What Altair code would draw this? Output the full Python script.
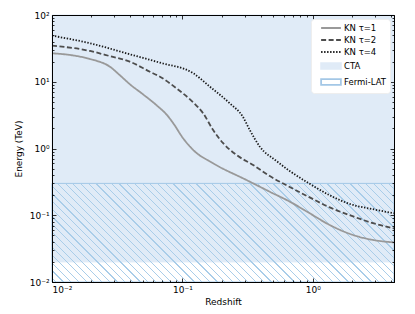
import math
import altair as alt
import pandas as pd

# ---------------- data ----------------
Z_TAU1 = [0.0100, 0.0137, 0.0196, 0.0278, 0.0332, 0.0395, 0.0498, 0.0638, 0.0761, 0.0851,
          0.1014, 0.1211, 0.1722, 0.3105, 0.468, 0.666, 0.948, 1.35, 2.04, 2.90, 4.2]
E_TAU1 = [26.7, 25.2, 21.9, 16.8, 12.5, 9.2, 6.5, 4.4, 3.18, 2.39,
          1.42, 0.95, 0.60, 0.337, 0.225, 0.160, 0.107, 0.0714, 0.0506, 0.0426, 0.0392]

Z_TAU2 = [0.0100, 0.0196, 0.0278, 0.0395, 0.0564, 0.0673, 0.0903, 0.1211, 0.1443, 0.1722,
          0.2055, 0.260, 0.349, 0.468, 0.666, 0.948, 1.35, 2.04, 2.90, 4.2]
E_TAU2 = [34.7, 28.9, 24.2, 20.0, 14.1, 11.9, 7.95, 4.9, 3.37, 1.89,
          1.20, 0.80, 0.566, 0.386, 0.265, 0.185, 0.131, 0.096, 0.076, 0.0635]

Z_TAU4 = [0.0100, 0.0196, 0.0395, 0.0673, 0.1211, 0.1626, 0.231, 0.291, 0.329, 0.393,
          0.527, 0.666, 0.948, 1.35, 2.04, 2.73, 4.2]
E_TAU4 = [49.0, 37.7, 25.8, 19.3, 13.4, 8.43, 4.75, 2.99, 1.89, 1.064,
          0.65, 0.46, 0.296, 0.199, 0.1425, 0.126, 0.107]

SERIES = ["KN τ=1", "KN τ=2", "KN τ=4"]
REGIONS = ["CTA", "Fermi-LAT"]
REGION_LO = [0.02, 0.01]
REGION_HI = [100.0, 0.3]
KEYS = SERIES + REGIONS

X_DOMAIN = [0.01, 4.2]
Y_DOMAIN = [0.01, 100.0]
X_MAJOR = [0.01, 0.1, 1.0]
Y_MAJOR = [0.01, 0.1, 1.0, 10.0, 100.0]
MAJOR_LABELS = ["10⁻²", "10⁻¹", "10⁰", "10¹", "10²"]
X_MINOR = [m * 10.0 ** k for k in (-2, -1, 0) for m in range(2, 10) if m * 10.0 ** k <= 4.2]
Y_MINOR = [m * 10.0 ** k for k in (-2, -1, 0, 1) for m in range(2, 10)]

# ---------------- styles ----------------
W, H = 342, 267
FONT = "DejaVu Sans"
CTA_COLOR = "#e0ebf7"
HATCH_COLOR = "#a9cde9"
EDGE_COLOR = "#a3c7e6"
CLEAR = "rgba(255,255,255,0)"
LINE_COLORS = ["#999999", "#4d4d4d", "#1a1a1a"]
LINE_PATH = "M-2.55,0L2.55,0"
RECT_PATH = "M-2.55,-0.75L2.55,-0.75L2.55,0.75L-2.55,0.75Z"

lines_df = pd.DataFrame({
    "z": Z_TAU1 + Z_TAU2 + Z_TAU4,
    "E": E_TAU1 + E_TAU2 + E_TAU4,
    "series": [SERIES[0]] * len(Z_TAU1) + [SERIES[1]] * len(Z_TAU2) + [SERIES[2]] * len(Z_TAU4),
})
regions_df = pd.DataFrame({"region": REGIONS, "lo": REGION_LO, "hi": REGION_HI})

# hatch pattern for Fermi-LAT as a striped linear gradient
hf = H * (math.log10(REGION_HI[1]) - math.log10(REGION_LO[1])) / (
    math.log10(Y_DOMAIN[1]) - math.log10(Y_DOMAIN[0]))
span = W + hf
a = span / (W * W + hf * hf)
spacing, lw = 7.7, 1.2
stops = [alt.GradientStop(offset=0, color=CLEAR)]
c = spacing / 2
while c < span - 1:
    t0, t1 = (c - lw / 2) / span, (c + lw / 2) / span
    stops += [alt.GradientStop(offset=t0, color=CLEAR),
              alt.GradientStop(offset=t0, color=HATCH_COLOR),
              alt.GradientStop(offset=t1, color=HATCH_COLOR),
              alt.GradientStop(offset=t1, color=CLEAR)]
    c += spacing
stops.append(alt.GradientStop(offset=1, color=CLEAR))
hatch = alt.LinearGradient(gradient="linear", stops=stops, x1=0, y1=1, x2=a * W, y2=1 - a * hf)


def label_expr(vals, labs):
    expr = "''"
    for v, l in reversed(list(zip(vals, labs))):
        expr = f"datum.value <= {v * 1.5} ? '{l}' : ({expr})"
    return expr


def axis(orient, values, size, labels=False, title=None, domain=False, **kw):
    return alt.Axis(orient=orient, values=values, tickSize=alt.ExprRef(expr=str(-size)),
                    labels=labels, title=title, domain=domain, grid=False, zindex=1, **kw)


xs = alt.Scale(type="log", domain=X_DOMAIN, nice=False)
ys = alt.Scale(type="log", domain=Y_DOMAIN, nice=False)

stroke_scale = alt.Scale(domain=KEYS, range=LINE_COLORS + [CTA_COLOR, EDGE_COLOR])
fill_scale = alt.Scale(domain=KEYS, range=[CLEAR, CLEAR, CLEAR, CTA_COLOR, CLEAR])
dash_scale = alt.Scale(domain=KEYS, range=[[1, 0], [5, 2.5], [1.4, 1.6], [1, 0], [1, 0]])
shape_scale = alt.Scale(domain=KEYS, range=[LINE_PATH, LINE_PATH, LINE_PATH, RECT_PATH, RECT_PATH])
width_scale = alt.Scale(domain=KEYS, range=[1.8, 1.8, 1.5, 0.8, 0.8])

legend = alt.Legend(orient="top-right", offset=4, title=None, padding=4, fillColor="white",
                    strokeColor="#eeeeee", cornerRadius=3, symbolSize=60, symbolOffset=11,
                    labelOffset=8, rowPadding=2, labelFont=FONT, labelFontSize=8.5,
                    labelColor="black", symbolFillColor="transparent", zindex=2)

base_regions = alt.Chart(regions_df)

regions = base_regions.mark_rect(strokeWidth=1).encode(
    x=alt.datum(X_DOMAIN[0], scale=xs,
                axis=axis("bottom", X_MAJOR, 4, labels=True, title="Redshift", domain=True,
                          labelExpr=label_expr(X_MAJOR, MAJOR_LABELS), labelPadding=7,
                          titlePadding=3)),
    x2=alt.datum(X_DOMAIN[1]),
    y=alt.Y("lo:Q", scale=ys,
            axis=axis("left", Y_MAJOR, 4, labels=True, title="Energy (TeV)", domain=True,
                      labelExpr=label_expr(Y_MAJOR, MAJOR_LABELS), labelPadding=7,
                      titlePadding=6)),
    y2="hi:Q",
    fill=alt.Fill("region:N", scale=fill_scale, legend=legend),
    stroke=alt.Stroke("region:N", scale=stroke_scale, legend=legend),
)

fermi_hatch = base_regions.transform_filter(alt.datum.region == REGIONS[1]).mark_rect(
    fill=hatch).encode(
    x=alt.datum(X_DOMAIN[0], scale=xs, axis=axis("bottom", X_MINOR, 2)),
    x2=alt.datum(X_DOMAIN[1]),
    y=alt.Y("lo:Q", scale=ys, axis=axis("left", Y_MINOR, 2)),
    y2="hi:Q",
)

lines = alt.Chart(lines_df).mark_line(strokeWidth=1.8, interpolate="monotone", clip=True).encode(
    x=alt.X("z:Q", scale=xs, axis=axis("top", X_MAJOR, 4, domain=True)),
    y=alt.Y("E:Q", scale=ys, axis=axis("right", Y_MAJOR, 4, domain=True)),
    stroke=alt.Stroke("series:N", scale=stroke_scale, legend=legend),
    strokeDash=alt.StrokeDash("series:N", scale=dash_scale, legend=legend),
)

legend_layer = alt.Chart(alt.Data(values=[])).mark_point(filled=True, opacity=1).encode(
    x=alt.X("z:Q", scale=xs, axis=axis("top", X_MINOR, 2)),
    y=alt.Y("E:Q", scale=ys, axis=axis("right", Y_MINOR, 2)),
    stroke=alt.Stroke("key:N", scale=stroke_scale, legend=legend),
    fill=alt.Fill("key:N", scale=fill_scale, legend=legend),
    strokeDash=alt.StrokeDash("key:N", scale=dash_scale, legend=legend),
    shape=alt.Shape("key:N", scale=shape_scale, legend=legend),
    strokeWidth=alt.StrokeWidth("key:N", scale=width_scale, legend=legend),
)

chart = alt.layer(regions, fermi_hatch, lines, legend_layer).resolve_axis(
    x="independent", y="independent"
).properties(
    width=W, height=H,
    autosize=alt.AutoSizeParams(type="none"),
    padding={"left": 44, "top": 7, "right": 10, "bottom": 24},
).configure_view(stroke="black", strokeWidth=1).configure_axis(
    labelFont=FONT, labelFontSize=9, labelColor="black", titleFont=FONT, titleFontSize=9,
    titleFontWeight="normal", titleColor="black", tickColor="black", tickWidth=0.8,
    domainColor="black", domainWidth=1,
)

chart.save("out.html", embed_options={"renderer": "svg", "actions": False})
